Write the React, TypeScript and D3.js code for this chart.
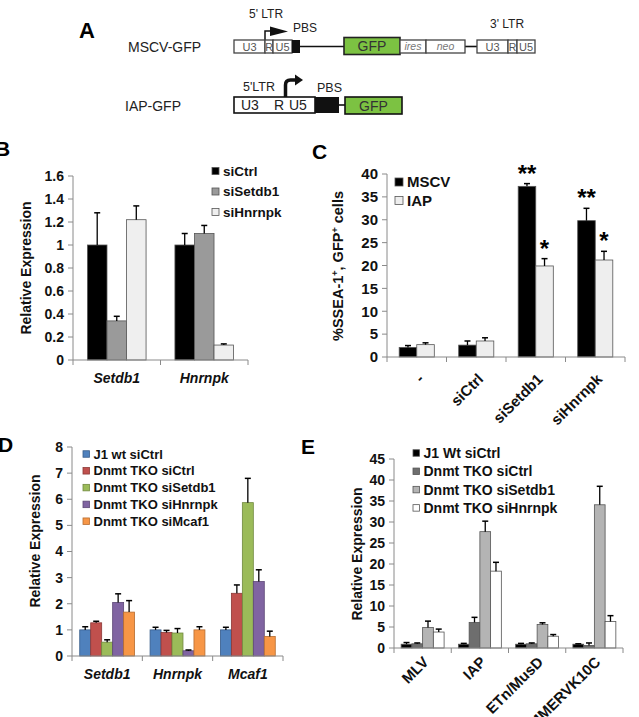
import React from 'react';
import * as d3 from 'd3';

const FONT = "'Liberation Sans', Arial, Helvetica, sans-serif";

// ---------- Panel B data ----------
const bCategories = ['Setdb1', 'Hnrnpk'];
const bSeries = ['siCtrl', 'siSetdb1', 'siHnrnpk'];
const bValues = [[1.0, 1.0], [0.34, 1.10], [1.22, 0.13]];
const bErrors = [[0.28, 0.10], [0.04, 0.07], [0.12, 0.01]];
const bTicks = [0, 0.2, 0.4, 0.6, 0.8, 1, 1.2, 1.4, 1.6];
const bColors = ['#000000', '#9a9a9a', '#efefef'];

// ---------- Panel C data ----------
const cCategories = ['-', 'siCtrl', 'siSetdb1', 'siHnrnpk'];
const cSeries = ['MSCV', 'IAP'];
const cValues = [[2.1, 2.6, 37.3, 29.8], [2.7, 3.5, 19.9, 21.2]];
const cErrors = [[0.4, 0.9, 0.6, 2.7], [0.4, 0.7, 1.6, 1.9]];
const cStars = [['', '', '**', '**'], ['', '', '*', '*']];
const cTicks = [0, 5, 10, 15, 20, 25, 30, 35, 40];
const cColors = ['#000000', '#eeeeee'];

// ---------- Panel D data ----------
const dCategories = ['Setdb1', 'Hnrnpk', 'Mcaf1'];
const dSeries = ['J1 wt siCtrl', 'Dnmt TKO siCtrl', 'Dnmt TKO siSetdb1', 'Dnmt TKO siHnrnpk', 'Dnmt TKO siMcaf1'];
const dValues = [[1.0, 1.0, 1.0], [1.27, 0.9, 2.4], [0.53, 0.88, 5.87], [2.05, 0.2, 2.85], [1.68, 1.0, 0.75]];
const dErrors = [[0.12, 0.1, 0.1], [0.06, 0.08, 0.32], [0.09, 0.17, 0.93], [0.33, 0.03, 0.45], [0.44, 0.12, 0.2]];
const dTicks = [0, 1, 2, 3, 4, 5, 6, 7, 8];
const dColors = ['#4F81BD', '#C0504D', '#9BBB59', '#8064A2', '#F79646'];
const dStrokes = ['#385D8A', '#8C3836', '#71893F', '#5C4776', '#B66D31'];

// ---------- Panel E data ----------
const eCategories = ['MLV', 'IAP', 'ETn/MusD', 'MMERVK10C'];
const eSeries = ['J1 Wt siCtrl', 'Dnmt TKO siCtrl', 'Dnmt TKO siSetdb1', 'Dnmt TKO siHnrnpk'];
const eValues = [[0.9, 0.9, 0.9, 0.9], [1.0, 6.1, 1.0, 0.6], [4.9, 27.7, 5.6, 34.1], [3.8, 18.3, 2.8, 6.3]];
const eErrors = [[0.4, 0.2, 0.2, 0.1], [0.2, 1.2, 0.2, 0.6], [1.5, 2.5, 0.4, 4.4], [0.7, 2.1, 0.4, 1.4]];
const eTicks = [0, 5, 10, 15, 20, 25, 30, 35, 40, 45];
const eColors = ['#000000', '#6e6e6e', '#b4b4b4', '#ffffff'];

type PanelProps = {
  cats: string[];
  values: number[][];
  errors: number[][];
  colors: string[];
  strokes?: string[];
  x0: number; x1: number; yBottom: number; yTop: number; yMax: number;
  ticks: number[];
  groupFrac: number;
  tickFont: number;
  rotated?: boolean;
  labelItalic?: boolean;
  labelY: number;
  labelFont: number;
  rotOffset?: number;
  stars?: string[][];
};

function BarPanel(p: PanelProps) {
  const x = d3.scaleBand<string>().domain(p.cats).range([p.x0, p.x1]).padding(0);
  const y = d3.scaleLinear().domain([0, p.yMax]).range([p.yBottom, p.yTop]);
  const bw = x.bandwidth();
  const pad = (bw * (1 - p.groupFrac)) / 2;
  const seriesIdx = p.values.map((_, i) => String(i));
  const axisColor = '#8a8a8a';
  return (
    <g>
      {p.cats.map((c, ci) => {
        const inner = d3.scaleBand<string>().domain(seriesIdx)
          .range([(x(c) as number) + pad, (x(c) as number) + bw - pad]);
        return (
          <g key={c}>
            {p.values.map((vals, si) => {
              const v = vals[ci];
              const e = p.errors[si][ci];
              const bx = inner(String(si)) as number;
              const w = inner.bandwidth();
              const cx = bx + w / 2;
              return (
                <g key={si}>
                  <rect x={bx} y={y(v)} width={w} height={y(0) - y(v)}
                    fill={p.colors[si]} stroke={p.strokes ? p.strokes[si] : '#555'} strokeWidth={0.8} />
                  <line x1={cx} x2={cx} y1={y(v)} y2={y(v + e)} stroke="#000" strokeWidth={1.3} />
                  <line x1={cx - 3} x2={cx + 3} y1={y(v + e)} y2={y(v + e)} stroke="#000" strokeWidth={1.5} />
                  {p.stars && p.stars[si][ci] ? (
                    <text x={cx} y={y(v + e) - 2} textAnchor="middle" fontSize={24} fontWeight="bold"
                      fontFamily={FONT}>{p.stars[si][ci]}</text>
                  ) : null}
                </g>
              );
            })}
          </g>
        );
      })}
      <line x1={p.x0} x2={p.x0} y1={p.yBottom} y2={y(p.yMax)} stroke={axisColor} strokeWidth={1} />
      {p.ticks.map((t) => (
        <g key={t}>
          <line x1={p.x0 - 5} x2={p.x0} y1={y(t)} y2={y(t)} stroke={axisColor} strokeWidth={1} />
          <text x={p.x0 - 9} y={y(t)} dy="0.35em" textAnchor="end" fontSize={p.tickFont}
            fontWeight="bold" fontFamily={FONT} fill="#111">{String(t)}</text>
        </g>
      ))}
      <line x1={p.x0} x2={p.x1} y1={p.yBottom} y2={p.yBottom} stroke={axisColor} strokeWidth={1} />
      {[...p.cats.map((c) => x(c) as number), p.x1].map((tx, i) => (
        <line key={i} x1={tx} x2={tx} y1={p.yBottom} y2={p.yBottom + 5} stroke={axisColor} strokeWidth={1} />
      ))}
      {p.cats.map((c) => {
        const cx = (x(c) as number) + bw / 2;
        if (p.rotated) {
          return (
            <text key={c} transform={`translate(${cx + (p.rotOffset ?? 4)},${p.labelY}) rotate(-45)`}
              textAnchor="end" fontSize={p.labelFont} fontWeight="bold" fontFamily={FONT} fill="#111">{c}</text>
          );
        }
        return (
          <text key={c} x={cx} y={p.labelY} textAnchor="middle" fontSize={p.labelFont} fontWeight="bold"
            fontStyle={p.labelItalic ? 'italic' : 'normal'} fontFamily={FONT} fill="#111">{c}</text>
        );
      })}
    </g>
  );
}

function Legend({ items, colors, strokes, x, y, step, size, font }:
  { items: string[]; colors: string[]; strokes?: string[]; x: number; y: number; step: number; size: number; font: number }) {
  return (
    <g>
      {items.map((it, i) => (
        <g key={it}>
          <rect x={x} y={y + i * step - size / 2} width={size} height={size} fill={colors[i]}
            stroke={strokes ? strokes[i] : '#555'} strokeWidth={0.8} />
          <text x={x + size + 4} y={y + i * step} dy="0.35em" fontSize={font} fontWeight="bold"
            fontFamily={FONT} fill="#111">{it}</text>
        </g>
      ))}
    </g>
  );
}

function PanelA() {
  const green = '#7cc242';
  const s = { fontFamily: FONT } as const;
  return (
    <g>
      <text x={79} y={38} fontSize={22} fontWeight="bold" {...s}>A</text>
      <text x={128} y={52} fontSize={14} {...s} fill="#222">MSCV-GFP</text>
      <text x={125} y={111} fontSize={14} {...s} fill="#222">IAP-GFP</text>
      <text x={249} y={18} fontSize={12} {...s} fill="#222">5' LTR</text>
      <path d="M265,40 V31 H271" fill="none" stroke="#111" strokeWidth={1.5} />
      <polygon points="270,26.5 288,31.5 270,36" fill="#111" />
      <text x={293} y={32} fontSize={12} {...s} fill="#222">PBS</text>
      <text x={490} y={28} fontSize={12} {...s} fill="#222">3' LTR</text>
      <line x1={300} x2={344} y1={46.5} y2={46.5} stroke="#111" strokeWidth={1.6} />
      <line x1={465} x2={477} y1={46.5} y2={46.5} stroke="#111" strokeWidth={1.6} />
      {[[234, 265, 'U3'], [265, 273, 'R'], [273, 292, 'U5'], [477, 508, 'U3'], [508, 517, 'R'], [517, 535, 'U5']].map(([a, b, t], i) => (
        <g key={i}>
          <rect x={a as number} y={40} width={(b as number) - (a as number)} height={13} fill="#fff" stroke="#444" strokeWidth={1.3} />
          <text x={((a as number) + (b as number)) / 2} y={50.5} textAnchor="middle" fontSize={t === 'R' ? 10.5 : 11} {...s} fill="#555">{t}</text>
        </g>
      ))}
      <rect x={292} y={40} width={8} height={13} fill="#111" />
      <rect x={344} y={37.5} width={56} height={17} fill={green} stroke="#222" strokeWidth={1.6} />
      <text x={372} y={50.5} textAnchor="middle" fontSize={14} {...s} fill="#333">GFP</text>
      <rect x={400} y={40} width={26} height={13} fill="#fff" stroke="#444" strokeWidth={1.3} />
      <text x={413} y={50} textAnchor="middle" fontSize={10.5} fontStyle="italic" {...s} fill="#777">ires</text>
      <rect x={426} y={40} width={39} height={13} fill="#fff" stroke="#444" strokeWidth={1.3} />
      <text x={445.5} y={50} textAnchor="middle" fontSize={10.5} fontStyle="italic" {...s} fill="#777">neo</text>
      <text x={243} y={91} fontSize={12.5} {...s} fill="#222">5'LTR</text>
      <path d="M285.5,97 V85 Q285.5,80 290.5,80 H296" fill="none" stroke="#111" strokeWidth={3.5} />
      <polygon points="295,74.5 303,80 295,85.5" fill="#111" />
      <text x={317} y={92} fontSize={12.5} {...s} fill="#222">PBS</text>
      <rect x={234} y={97} width={81} height={16} fill="#fff" stroke="#111" strokeWidth={1.6} />
      <text x={241} y={110} fontSize={14} {...s} fill="#222">U3</text>
      <text x={274} y={110} fontSize={14} {...s} fill="#222">R</text>
      <text x={289} y={110} fontSize={14} {...s} fill="#222">U5</text>
      <rect x={315} y={97} width={24} height={16} fill="#111" />
      <line x1={339} x2={345} y1={105} y2={105} stroke="#111" strokeWidth={1.6} />
      <rect x={345} y={97} width={57} height={17} fill={green} stroke="#111" strokeWidth={1.6} />
      <text x={373.5} y={111} textAnchor="middle" fontSize={14} {...s} fill="#333">GFP</text>
    </g>
  );
}

export default function App() {
  return (
    <svg width={639} height={717} style={{ position: 'absolute', left: 0, top: 0, background: '#fff' }}
      fontFamily={FONT}>
      <rect width={639} height={717} fill="#fff" />
      <PanelA />

      {/* Panel B */}
      <text x={-5} y={156} fontSize={21} fontWeight="bold">B</text>
      <BarPanel cats={bCategories} values={bValues} errors={bErrors} colors={bColors}
        x0={73} x1={248} yBottom={360} yTop={176} yMax={1.6} ticks={bTicks} groupFrac={0.67}
        tickFont={14} labelItalic labelY={383} labelFont={14} />
      <Legend items={bSeries} colors={bColors} x={212} y={171} step={20.5} size={7} font={13.5} />
      <text transform="translate(31,268) rotate(-90)" textAnchor="middle" fontSize={14} fontWeight="bold" fill="#111">Relative Expression</text>

      {/* Panel C */}
      <text x={312} y={159} fontSize={21} fontWeight="bold">C</text>
      <BarPanel cats={cCategories} values={cValues} errors={cErrors} colors={cColors}
        x0={387} x1={625} yBottom={357} yTop={174} yMax={40} ticks={cTicks} groupFrac={0.59}
        tickFont={15} rotated labelY={380} labelFont={15} rotOffset={8} stars={cStars} />
      <Legend items={cSeries} colors={cColors} x={395} y={182} step={18.5} size={8} font={15} />
      <text transform="translate(343,266) rotate(-90)" textAnchor="middle" fontSize={14.5} fontWeight="bold" fill="#111">
        %SSEA-1<tspan dy="-5" fontSize={9}>+</tspan><tspan dy="5">, GFP</tspan><tspan dy="-5" fontSize={9}>+</tspan><tspan dy="5"> cells</tspan>
      </text>

      {/* Panel D */}
      <text x={-2} y={452} fontSize={21} fontWeight="bold">D</text>
      <BarPanel cats={dCategories} values={dValues} errors={dErrors} colors={dColors} strokes={dStrokes}
        x0={72} x1={283} yBottom={656} yTop={447} yMax={8} ticks={dTicks} groupFrac={0.78}
        tickFont={14} labelItalic labelY={679} labelFont={14} />
      <Legend items={dSeries} colors={dColors} strokes={dStrokes} x={83} y={454} step={16.8} size={6.5} font={13} />
      <text transform="translate(40,541) rotate(-90)" textAnchor="middle" fontSize={14} fontWeight="bold" fill="#111">Relative Expression</text>

      {/* Panel E */}
      <text x={301} y={454} fontSize={21} fontWeight="bold">E</text>
      <BarPanel cats={eCategories} values={eValues} errors={eErrors} colors={eColors}
        x0={394} x1={623} yBottom={648} yTop={459} yMax={45} ticks={eTicks} groupFrac={0.75}
        tickFont={14} rotated labelY={663} labelFont={15} rotOffset={7} />
      <Legend items={eSeries} colors={eColors} x={413} y={453} step={18.3} size={6.5} font={14} />
      <text transform="translate(362,554) rotate(-90)" textAnchor="middle" fontSize={14} fontWeight="bold" fill="#111">Relative Expression</text>
    </svg>
  );
}
